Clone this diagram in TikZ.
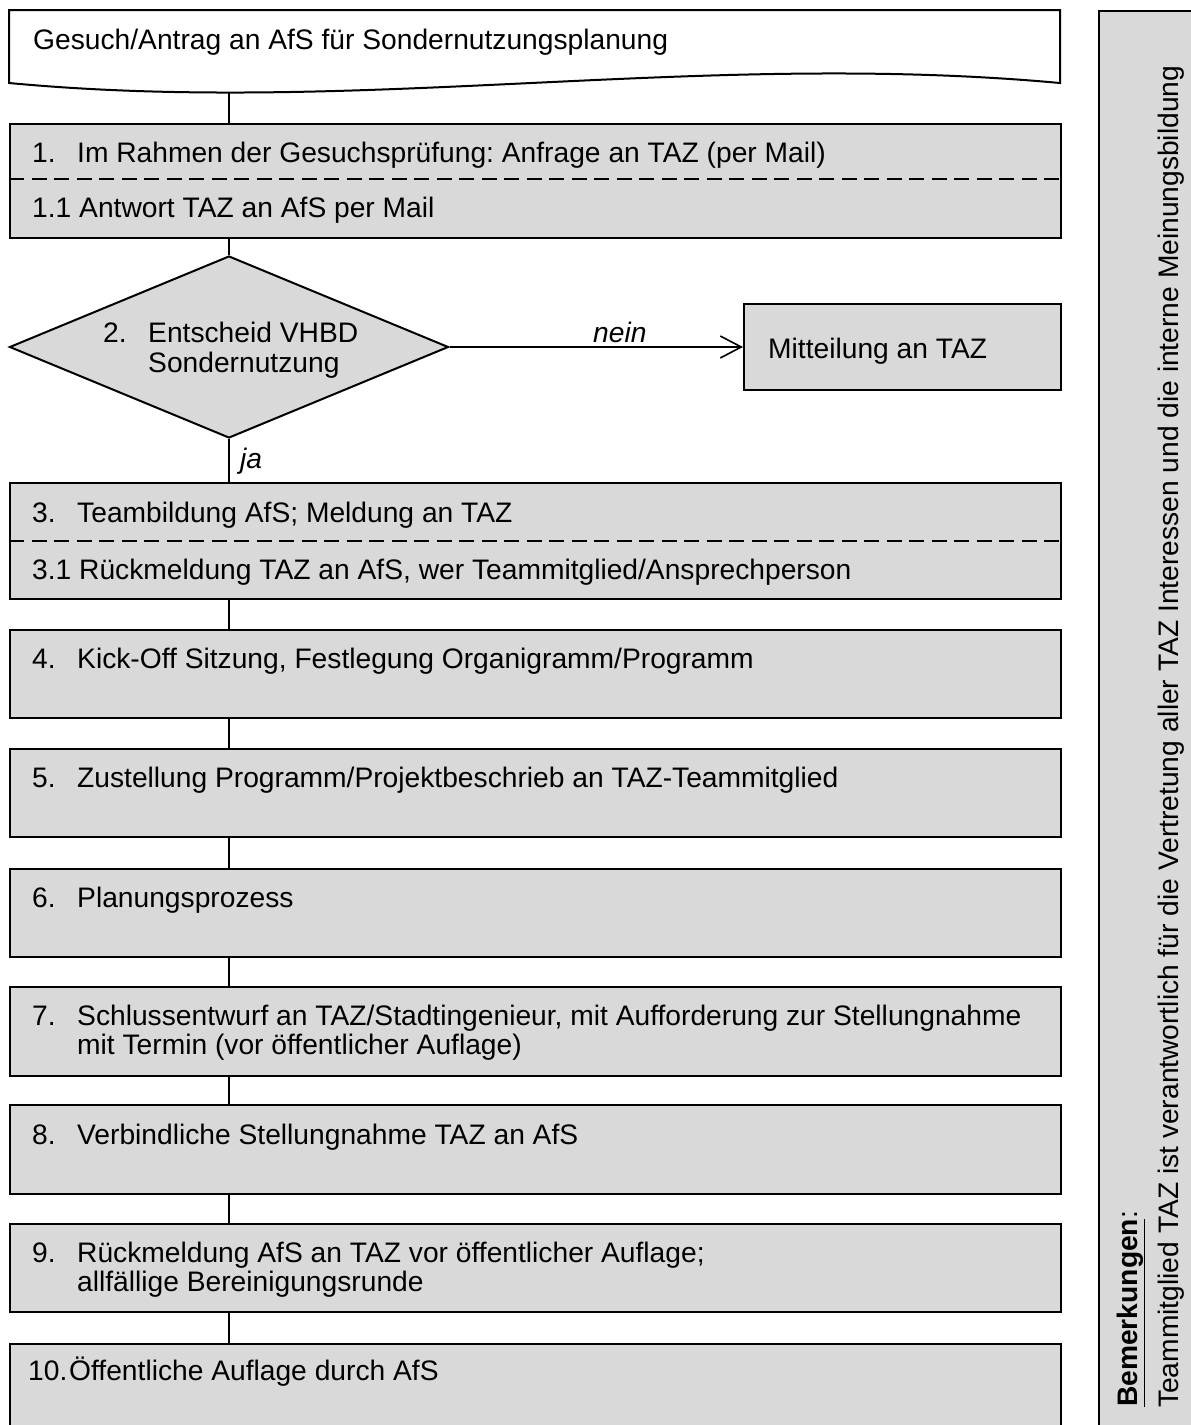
\documentclass[tikz,border=0pt]{standalone}
\usepackage{fontspec}
\setmainfont{Liberation Sans}
\frenchspacing
\usetikzlibrary{shapes.geometric,arrows.meta}
\definecolor{boxgray}{RGB}{217,217,217}
\tikzset{
  procbox/.style={draw=black, line width=2pt, fill=boxgray, rectangle,
    inner sep=0pt, anchor=north west, minimum width=1051pt},
  decbox/.style={draw=black, line width=2pt, fill=boxgray, diamond,
    inner sep=0pt, minimum width=439pt, minimum height=182pt},
  lbl/.style={anchor=base west, inner sep=0pt, font=\fontsize{28.2}{29}\selectfont},
  conn/.style={line width=2.4pt},
  sepline/.style={line width=2pt, dash pattern=on 15pt off 7.5pt},
}
\begin{document}
\begin{tikzpicture}[x=1pt, y=-1pt]
\useasboundingbox (0,0) rectangle (1191,1425);

% start document shape with wavy lower edge
\draw[line width=2pt, fill=white] (9,10) -- (1060,10) -- (1060,83)
  .. controls (700,50) and (360,116) .. (9,83) -- cycle;
\coordinate (docb) at (229,93);
\node[lbl] (t0) at (33,49) {Gesuch/Antrag an AfS für Sondernutzungsplanung};

% step 1 with reply
\node[procbox, minimum height=114pt] (b1) at (9,123) {};
\draw[sepline] (b1.west |- 0,179) -- (b1.east |- 0,179);
\node[lbl] (n1) at (32,162) {1.};
\node[lbl] (t1) at (77,162) {Im Rahmen der Gesuchsprüfung: Anfrage an TAZ (per Mail)};
\node[lbl] (t11) at (32,217) {1.1 Antwort TAZ an AfS per Mail};

% decision
\node[decbox] (d2) at (229,347) {};
\node[lbl] (n2) at (103,342) {2.};
\node[lbl] (t2a) at (148,342) {Entscheid VHBD};
\node[lbl] (t2b) at (148,372) {Sondernutzung};

\node[procbox, anchor=center, minimum width=317pt, minimum height=86pt] (mt) at (902.5,347) {};
\node[lbl] (tmt) at (768,358) {Mitteilung an TAZ};

% step 3 with reply
\node[procbox, minimum height=116pt] (b3) at (9,482) {};
\draw[sepline] (b3.west |- 0,541) -- (b3.east |- 0,541);
\node[lbl] (n3) at (32,522) {3.};
\node[lbl] (t3) at (77,522) {Teambildung AfS; Meldung an TAZ};
\node[lbl] (t31) at (32,579) {3.1 Rückmeldung TAZ an AfS, wer Teammitglied/Ansprechperson};

% steps 4 to 10
\node[procbox, minimum height=88pt] (b4) at (9,629) {};
\node[lbl] (n4) at (32,668) {4.};
\node[lbl] (t4) at (77,668) {Kick-Off Sitzung, Festlegung Organigramm/Programm};

\node[procbox, minimum height=88pt] (b5) at (9,748) {};
\node[lbl] (n5) at (32,787) {5.};
\node[lbl] (t5) at (77,787) {Zustellung Programm/Projektbeschrieb an TAZ-Teammitglied};

\node[procbox, minimum height=88pt] (b6) at (9,868) {};
\node[lbl] (n6) at (32,907) {6.};
\node[lbl] (t6) at (77,907) {Planungsprozess};

\node[procbox, minimum height=89pt] (b7) at (9,986) {};
\node[lbl] (n7) at (32,1025) {7.};
\node[lbl] (t7a) at (77,1025) {Schlussentwurf an TAZ/Stadtingenieur, mit Aufforderung zur Stellungnahme};
\node[lbl] (t7b) at (77,1054) {mit Termin (vor öffentlicher Auflage)};

\node[procbox, minimum height=89pt] (b8) at (9,1104) {};
\node[lbl] (n8) at (32,1144) {8.};
\node[lbl] (t8) at (77,1144) {Verbindliche Stellungnahme TAZ an AfS};

\node[procbox, minimum height=88pt] (b9) at (9,1223) {};
\node[lbl] (n9) at (32,1262) {9.};
\node[lbl] (t9a) at (77,1262) {Rückmeldung AfS an TAZ vor öffentlicher Auflage;};
\node[lbl] (t9b) at (77,1291) {allfällige Bereinigungsrunde};

\node[procbox, minimum height=88pt] (b10) at (9,1343) {};
\node[lbl] (n10) at (28,1380) {10.};
\node[lbl] (t10) at (69,1380) {Öffentliche Auflage durch AfS};

% remarks panel
\node[procbox, minimum width=104pt, minimum height=1422pt] (rem) at (1098,10) {};
\node[lbl, rotate=90] (rem1) at (1137,1407) {\textbf{\underline{Bemerkungen}}:};
\node[lbl, rotate=90] (rem2) at (1178,1408) {Teammitglied TAZ ist verantwortlich für die Vertretung aller TAZ Interessen und die interne Meinungsbildung};

% connectors
\draw[conn] (docb) -- (docb |- b1.north);
\draw[conn] (docb |- b1.south) -- (d2.north);
\draw[conn] (d2.south) -- (d2.south |- b3.north);
\draw[conn] (docb |- b3.south) -- (docb |- b4.north);
\draw[conn] (docb |- b4.south) -- (docb |- b5.north);
\draw[conn] (docb |- b5.south) -- (docb |- b6.north);
\draw[conn] (docb |- b6.south) -- (docb |- b7.north);
\draw[conn] (docb |- b7.south) -- (docb |- b8.north);
\draw[conn] (docb |- b8.south) -- (docb |- b9.north);
\draw[conn] (docb |- b9.south) -- (docb |- b10.north);
\draw[line width=1.6pt, -{Straight Barb[length=21pt, width=22pt, line width=1.6pt]}] (d2.east) -- (mt.west);

% branch labels
\node[lbl, font=\fontsize{28.2}{29}\selectfont\itshape] (lnein) at (593,342) {nein};
\node[lbl, font=\fontsize{28.2}{29}\selectfont\itshape] (lja) at (240,468) {ja};
\end{tikzpicture}
\end{document}
